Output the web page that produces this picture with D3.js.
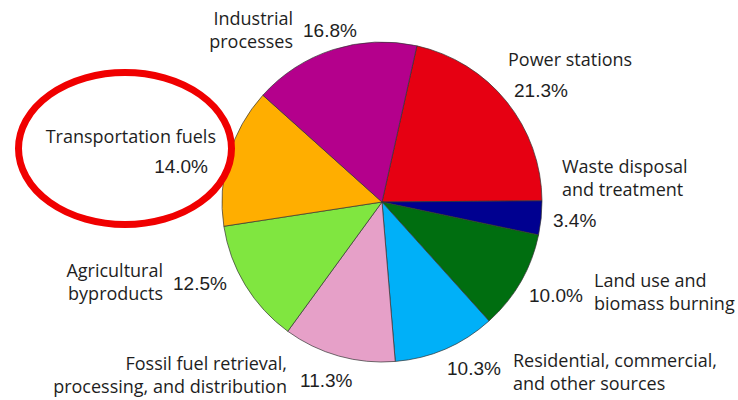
<!DOCTYPE html>
<html><head><meta charset="utf-8">
<script src="https://cdn.jsdelivr.net/npm/d3@7"></script>
<style>html,body{margin:0;padding:0;background:#fff;}svg{display:block;}</style>
</head><body>
<svg id="chart" width="738" height="400"></svg>
<script>
const categories = ["Power stations","Waste disposal and treatment","Land use and biomass burning","Residential, commercial, and other sources","Fossil fuel retrieval, processing, and distribution","Agricultural byproducts","Transportation fuels","Industrial processes"];
const values = [21.3, 3.4, 10.0, 10.3, 11.3, 12.5, 14.0, 16.8];
const colors = ["#e60012","#000090","#006e10","#00b0f8","#e6a0c8","#80e640","#ffae00","#b4008c"];
const labelLines = [["Power stations"],["Waste disposal","and treatment"],["Land use and","biomass burning"],["Residential, commercial,","and other sources"],["Fossil fuel retrieval,","processing, and distribution"],["Agricultural","byproducts"],["Transportation fuels"],["Industrial","processes"]];

const svg = d3.select("#chart");
const cx = 382, cy = 202, R = 160;
const startDeg = 12.6;
const pie = d3.pie().sort(null).value(d => d)
  .startAngle(startDeg*Math.PI/180).endAngle(startDeg*Math.PI/180 + 2*Math.PI);
const arcs = pie(values);
const arc = d3.arc().innerRadius(0).outerRadius(R);
const g = svg.append("g").attr("transform", `translate(${cx},${cy})`);
g.selectAll("path").data(arcs).enter().append("path")
  .attr("d", arc).attr("fill", (d,i) => colors[i])
  .attr("stroke", "#333").attr("stroke-width", 0.7);

const layout = [
  {nx:508, ny:66, na:"start", px:514, py:97, pa:"start"},
  {nx:562, ny:173, na:"start", px:553, py:227, pa:"start"},
  {nx:594, ny:287, na:"start", px:529, py:302, pa:"start"},
  {nx:513, ny:367, na:"start", px:447, py:375, pa:"start"},
  {nx:287, ny:370, na:"end", px:300, py:387, pa:"start"},
  {nx:163, ny:277, na:"end", px:173, py:290, pa:"start"},
  {nx:216, ny:143, na:"end", px:208, py:173, pa:"end"},
  {nx:293, ny:25, na:"end", px:303, py:37, pa:"start"}
];
const lineH = 23;
layout.forEach((L,i) => {
  const t = svg.append("text").attr("x", L.nx).attr("y", L.ny)
    .attr("text-anchor", L.na)
    .attr("font-family", "'Open Sans', 'Noto Sans', sans-serif")
    .attr("font-size", 18).attr("fill", "#1e1e1e");
  labelLines[i].forEach((ln,j) => {
    t.append("tspan").attr("x", L.nx).attr("y", L.ny + j*lineH).text(ln);
  });
  svg.append("text").attr("x", L.px).attr("y", L.py)
    .attr("text-anchor", L.pa)
    .attr("font-family", "'Liberation Sans', Arial, sans-serif")
    .attr("font-size", 19).attr("fill", "#1e1e1e")
    .text(values[i].toFixed(1) + "%");
});

svg.append("ellipse").attr("cx", 125).attr("cy", 148.5)
  .attr("rx", 106.5).attr("ry", 76)
  .attr("fill", "none").attr("stroke", "#f00000").attr("stroke-width", 7);
</script>
</body></html>
